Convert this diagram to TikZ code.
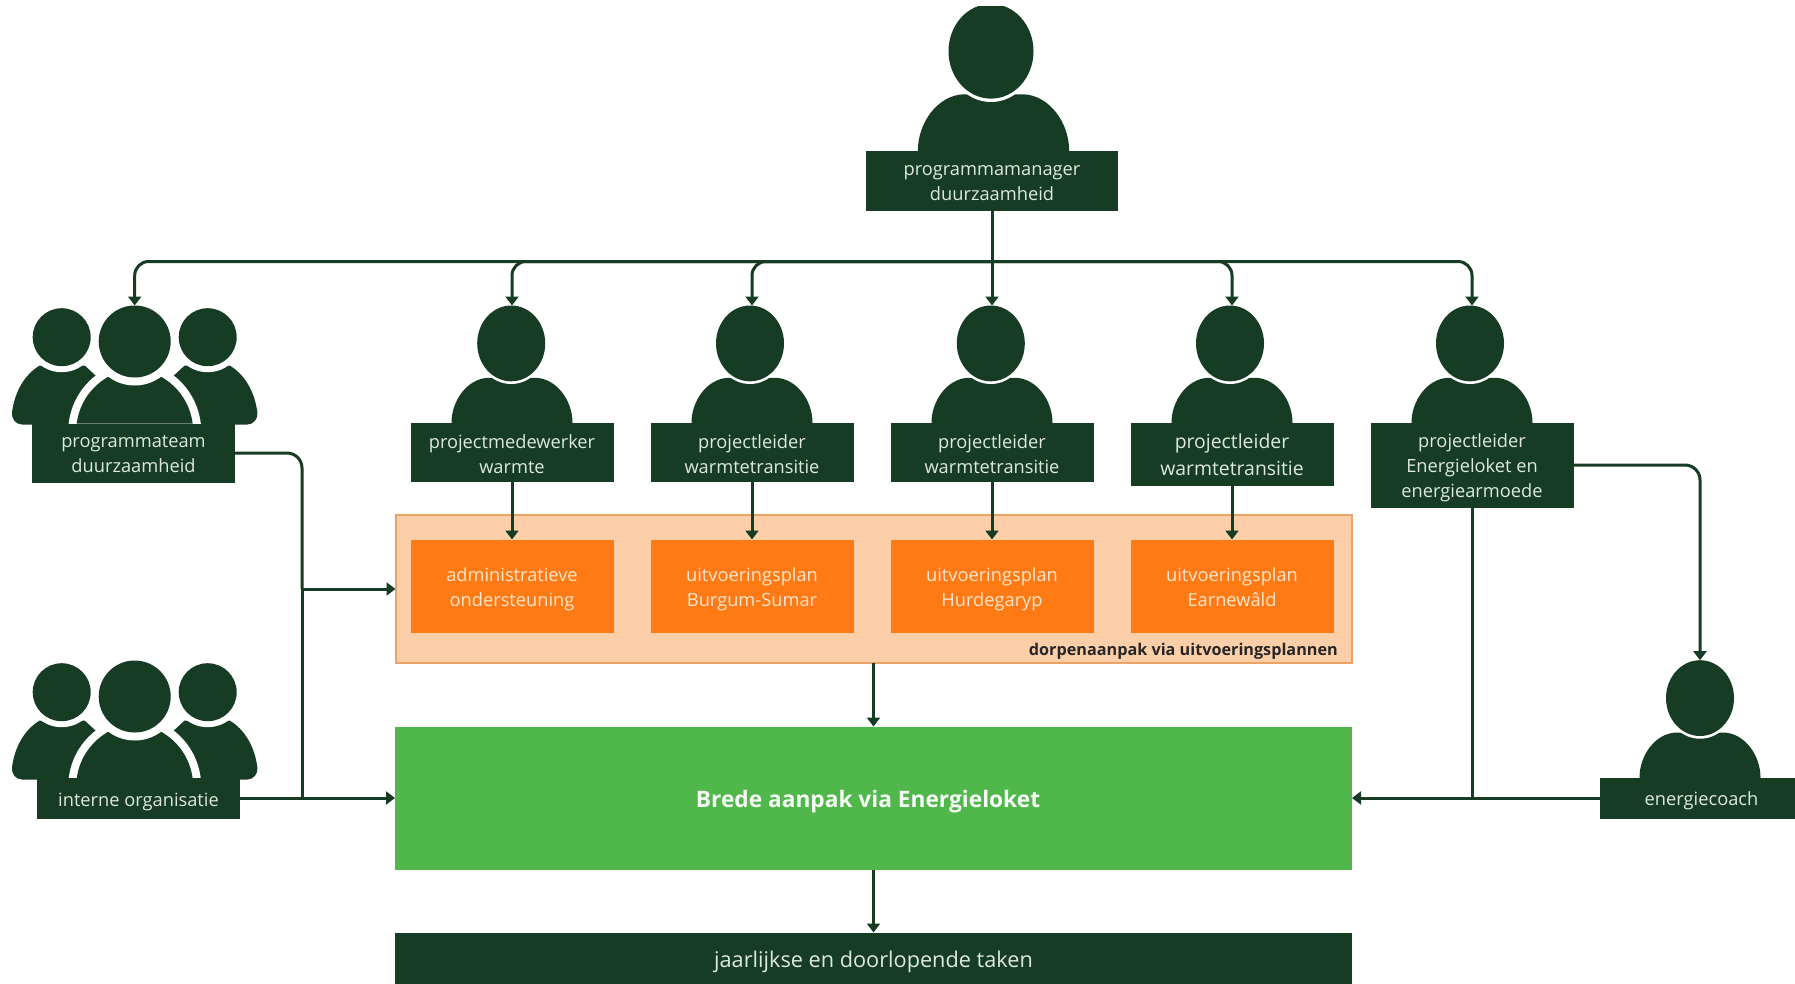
\documentclass[tikz,border=0pt]{standalone}
\usepackage{fontspec}
\setmainfont{Open Sans}
\usetikzlibrary{arrows.meta,shapes.geometric,calc}
\definecolor{dk}{HTML}{163C24}
\definecolor{grn}{HTML}{50B74B}
\definecolor{org}{HTML}{FE7A15}
\definecolor{lorg}{HTML}{FDCFA8}
\definecolor{borg}{HTML}{EDA365}
\definecolor{lbl}{HTML}{DDE9DF}
\definecolor{lblo}{HTML}{FFE6CC}
\newcommand\dn[1]{\rule{0pt}{#1pt}}
\tikzset{
  darkbox/.style={fill=dk,draw=none,inner sep=0pt,outer sep=0pt,text=lbl,align=center,minimum width=#1,
    font=\fontsize{18.25}{25}\selectfont},
  darkbox/.default=203pt,
  orgbox/.style={fill=org,draw=none,inner sep=0pt,outer sep=0pt,text=lblo,align=center,minimum width=203pt,minimum height=93pt,
    font=\fontsize{18.25}{25}\selectfont},
  headn/.style={ellipse,fill=dk,draw=none,inner sep=0pt,outer sep=0pt},
  line/.style={draw=dk,line width=3pt},
  arr/.style={line,-{Triangle[length=9pt,width=13pt]}},
}
\newcommand\personfig[5]{% name, body cx, box top, scale, head cx
  \begin{scope}[shift={(#2,#3)},scale=#4]
    \fill[dk] (-60.5,1) -- (-60.5,0) .. controls (-60.5,-22) and (-45,-44) .. (-24,-45)
      .. controls (-12,-45) and (12,-45) .. (24,-45)
      .. controls (45,-44) and (60.5,-22) .. (60.5,0) -- (60.5,1) -- cycle;
  \end{scope}
  \fill[white] (#5,{#3-79.4*#4}) ellipse [x radius={36.2*#4},y radius={40.6*#4}];
  \node[headn,minimum width={68pt*#4},minimum height={75.8pt*#4}] (#1) at (#5,{#3-79.4*#4}) {};
}
\newcommand\teamside{%
  \fill[dk] (-40,1) -- (-112.7,1) .. controls (-119,1) and (-123.5,-5) .. (-122.7,-11)
    .. controls (-120,-32) and (-110,-49) .. (-95,-58) -- (-50,-58) -- (-37,-46) -- (-40,1) -- cycle;
}
\newcommand\teamfig[2]{% name, box top
  \begin{scope}[shift={(134.7,#2)}]
    \teamside
    \begin{scope}[xscale=-1]\teamside\end{scope}
    \fill[white] (-73,-86.3) circle [radius=35];
    \fill[white] (73,-86.3) circle [radius=35];
    \draw[white,fill=white,line width=16pt] (-58,0) .. controls (-55,-22) and (-42,-38) .. (-26,-47)
       -- (26,-47) .. controls (42,-38) and (55,-22) .. (58,0) -- cycle;
    \fill[dk] (-58,0) .. controls (-55,-22) and (-42,-38) .. (-26,-47)
       -- (26,-47) .. controls (42,-38) and (55,-22) .. (58,0) -- cycle;
    \fill[white] (0,-82) circle [radius=44];
    \fill[dk] (-73,-86.3) circle [radius=29];
    \fill[dk] (73,-86.3) circle [radius=29];
  \end{scope}
  \node[headn,minimum width=72pt,minimum height=72pt] (#1) at (134.7,{#2-82}) {};
}
\begin{document}
\begin{tikzpicture}[x=1pt,y=-1pt]
\useasboundingbox (0,0) rectangle (1795,983);
% persons
\begin{scope}
  \clip (0,6) rectangle (1795,983);
  \personfig{hm}{993.5}{150.5}{1.25}{991}
\end{scope}
\personfig{ha}{512}{422.8}{1}{511.2}
\personfig{hb}{752}{422.8}{1}{750}
\personfig{hc}{992}{422.8}{1}{990.8}
\personfig{hd}{1232}{422.8}{1}{1230}
\personfig{he}{1472}{422.8}{1}{1470}
\personfig{hf}{1700}{777.5}{1}{1700}
\teamfig{ht}{423.5}
\teamfig{hi}{778.5}
% boxes
\node[darkbox=252pt,minimum height=60pt] (mgr) at (992,180.5) {\dn{14.6}programmamanager\\duurzaamheid};
\node[darkbox,minimum height=59.5pt] (ba) at (512,452.5) {\dn{16.3}projectmedewerker\\warmte};
\node[darkbox,minimum height=59.5pt] (bb) at (752,452.5) {\dn{16.3}projectleider\\warmtetransitie};
\node[darkbox,minimum height=59.5pt] (bc) at (992,452.5) {\dn{16.3}projectleider\\warmtetransitie};
\node[darkbox,minimum height=63.5pt,font=\fontsize{19.4}{26.5}\selectfont] (bd) at (1232,454.5) {projectleider\\warmtetransitie};
\node[darkbox,minimum height=85pt] (be) at (1472,465) {\dn{19.5}projectleider\\Energieloket en\\energiearmoede};
\node[darkbox,minimum height=59pt] (bt) at (133.5,453) {\dn{14.4}programmateam\\duurzaamheid};
\node[darkbox,minimum height=41pt] (bi) at (138.5,798) {\dn{21}interne organisatie};
\node[darkbox=195pt,minimum height=41pt] (bf) at (1697.5,798) {\hspace*{8pt}\dn{20}energiecoach};
% dorpen
\node[fill=lorg,draw=borg,line width=2pt,inner sep=0pt,outer sep=0pt,minimum width=956pt,minimum height=148.5pt] (dorpen) at (873.5,589) {};
\node[orgbox] (oa) at (512,586) {\dn{20.8}administratieve\\ondersteuning};
\node[orgbox] (ob) at (752,586) {\dn{20.8}uitvoeringsplan\\Burgum-Sumar};
\node[orgbox] (oc) at (992,586) {\dn{20.8}uitvoeringsplan\\Hurdegaryp};
\node[orgbox] (od) at (1232,586) {\dn{16.4}uitvoeringsplan\\Earnewâld};
\node[anchor=east,inner sep=0pt,text=black!85,font=\fontsize{16.2}{20}\selectfont\bfseries] (cap) at (1338,651) {dorpenaanpak via uitvoeringsplannen};
\node[fill=grn,inner sep=0pt,outer sep=0pt,minimum width=957pt,minimum height=143pt,text=white!95!grn,font=\fontsize{22.7}{28}\selectfont\bfseries] (green) at (873.5,798) {\dn{25}Brede aanpak via Energieloket\hspace*{11pt}};
\node[fill=dk,inner sep=0pt,outer sep=0pt,minimum width=957pt,minimum height=52pt,text=lbl,font=\fontsize{21.7}{28}\selectfont] (bar) at (873.5,958.5) {\dn{24}jaarlijkse en doorlopende taken};
% connectors
\coordinate (bus) at (992,261.5);
\draw[arr] (mgr.south) -- (bc.north |- hc.north);
\draw[arr,rounded corners=14pt] (bus) -| (ht.north);
\draw[arr,rounded corners=14pt] (bus) -| (ba.north |- ha.north);
\draw[arr,rounded corners=14pt] (bus) -| (bb.north |- hb.north);
\draw[arr,rounded corners=14pt] (bus) -| (bd.north |- hd.north);
\draw[arr,rounded corners=14pt] (bus) -| (be.north |- he.north);
\draw[arr] (ba.south) -- (oa.north);
\draw[arr] (bb.south) -- (ob.north);
\draw[arr] (bc.south) -- (oc.north);
\draw[arr] (bd.south) -- (od.north);
\coordinate (tj) at (302,589);
\draw[line,rounded corners=15pt] (bt.east) -| (tj);
\draw[line] (tj) -- (tj |- bi.east);
\draw[arr] (tj) -- (dorpen.west);
\draw[arr] (bi.east) -- (green.west);
\draw[arr] (bf.west) -- (green.east);
\draw[line] (be.south) -- (be.south |- bf.west);
\draw[arr,rounded corners=15pt] (be.east) -| (hf.north);
\draw[arr] (dorpen.south) -- (green.north);
\draw[arr] (green.south) -- (bar.north);
\end{tikzpicture}
\end{document}
